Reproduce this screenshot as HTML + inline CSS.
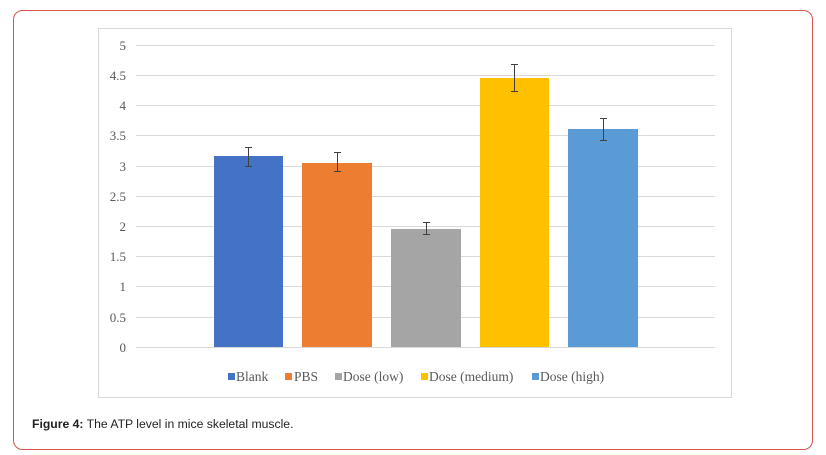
<!DOCTYPE html>
<html><head><meta charset="utf-8"><style>
html,body{margin:0;padding:0;background:#fff;width:826px;height:455px;overflow:hidden}
</style></head><body>
<svg width="826" height="455" xmlns="http://www.w3.org/2000/svg">
<rect x="13.5" y="10.5" width="799" height="439" rx="9" fill="#fff" stroke="#d9534f" stroke-width="1"/>
<rect x="98.5" y="28.5" width="633" height="369" fill="#fff" stroke="#d9d9d9" stroke-width="1"/>
<g stroke="#d9d9d9" stroke-width="1">
<line x1="136" x2="715" y1="45.5" y2="45.5"/>
<line x1="136" x2="715" y1="75.5" y2="75.5"/>
<line x1="136" x2="715" y1="105.5" y2="105.5"/>
<line x1="136" x2="715" y1="135.5" y2="135.5"/>
<line x1="136" x2="715" y1="166.5" y2="166.5"/>
<line x1="136" x2="715" y1="196.5" y2="196.5"/>
<line x1="136" x2="715" y1="226.5" y2="226.5"/>
<line x1="136" x2="715" y1="256.5" y2="256.5"/>
<line x1="136" x2="715" y1="286.5" y2="286.5"/>
<line x1="136" x2="715" y1="317.5" y2="317.5"/>
<line x1="136" x2="715" y1="347.5" y2="347.5"/>
</g>
<g font-family="Liberation Serif, serif" font-size="13" fill="#595959" text-anchor="end">
<text x="126" y="50">5</text><text x="126" y="80">4.5</text><text x="126" y="110">4</text>
<text x="126" y="140">3.5</text><text x="126" y="171">3</text><text x="126" y="201">2.5</text>
<text x="126" y="231">2</text><text x="126" y="261">1.5</text><text x="126" y="291">1</text>
<text x="126" y="322">0.5</text><text x="126" y="352">0</text>
</g>
<rect x="214" y="156" width="69" height="191" fill="#4472c4"/>
<rect x="302" y="163" width="70" height="184" fill="#ed7d31"/>
<rect x="391" y="229" width="70" height="118" fill="#a5a5a5"/>
<rect x="480" y="78" width="69" height="269" fill="#ffc000"/>
<rect x="568" y="129" width="70" height="218" fill="#5b9bd5"/>
<g stroke="#404040" stroke-width="1" fill="none">
<path d="M248.5 147v19M245 147.5h7M245 166.5h7"/>
<path d="M337.5 152v19M334 152.5h7M334 171.5h7"/>
<path d="M426.5 222v12M423 222.5h7M423 234.5h7"/>
<path d="M514.5 64v27M511 64.5h7M511 91.5h7"/>
<path d="M603.5 118v22M600 118.5h7M600 140.5h7"/>
</g>
<g font-family="Liberation Serif, serif" font-size="13.5" fill="#595959">
<rect x="228" y="373" width="7" height="7" fill="#4472c4"/><text x="236" y="381">Blank</text>
<rect x="285" y="373" width="7" height="7" fill="#ed7d31"/><text x="294" y="381">PBS</text>
<rect x="335" y="373" width="7" height="7" fill="#a5a5a5"/><text x="343" y="381">Dose (low)</text>
<rect x="421" y="373" width="7" height="7" fill="#ffc000"/><text x="429" y="381">Dose (medium)</text>
<rect x="532" y="373" width="7" height="7" fill="#5b9bd5"/><text x="540" y="381">Dose (high)</text>
</g>
<text x="32" y="428" font-family="Liberation Sans, Arial, sans-serif" font-size="12.2" fill="#222"><tspan font-weight="bold">Figure 4:</tspan> The ATP level in mice skeletal muscle.</text>
</svg>
</body></html>
